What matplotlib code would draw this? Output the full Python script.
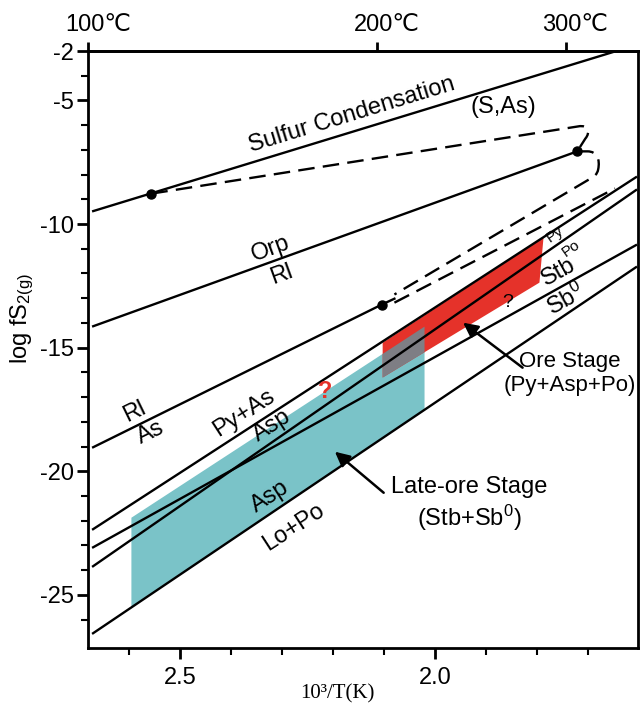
import matplotlib.pyplot as plt
import numpy as np
from matplotlib.path import Path
from matplotlib.patches import PathPatch, Polygon

plt.rcParams['font.family'] = ['Liberation Sans', 'DejaVu Sans']
plt.rcParams['mathtext.default'] = 'regular'

# boundary lines, x = 10^3/T(K), y = log fS2
sulfur_x = [2.672, 1.642]
sulfur_y = [-9.49, -2.98]
orp_x = [2.672, 1.722]
orp_y = [-14.15, -7.06]
rl_x = [2.672, 2.105]
rl_y = [-19.05, -13.26]
pyas_x = [2.672, 1.605]
pyas_y = [-22.37, -8.08]
pypo_x = [2.672, 1.605]
pypo_y = [-23.87, -8.60]
stb_x = [2.672, 1.605]
stb_y = [-23.10, -10.83]
lopo_x = [2.672, 1.605]
lopo_y = [-26.58, -11.72]

# invariant points
dots_x = [2.556, 1.722, 2.105]
dots_y = [-8.77, -7.06, -13.26]

# dashed (metastable) curves
dash1_x = [2.556, 1.720, 1.700, 1.696, 1.706, 1.722]
dash1_y = [-8.77, -6.05, -5.97, -6.30, -6.54, -7.06]
dash2_x = [1.722, 1.702, 1.683, 1.677, 1.681, 1.683, 1.689, 1.696, 2.080]
dash2_y = [-7.06, -7.06, -7.06, -7.39, -7.79, -8.00, -8.08, -8.16, -12.85]
dash3_x = [2.080, 1.648]
dash3_y = [-13.18, -8.56]
dash0_x = [2.105, 2.080]
dash0_y = [-13.26, -13.02]

# stage fields
late_x = [2.595, 2.021, 2.021, 2.595]
late_y = [-21.88, -14.15, -17.51, -25.49]
ore_x = [2.103, 1.788, 1.796, 2.103]
ore_y = [-14.80, -10.55, -12.37, -16.21]

# axis ticks
x_major = [2.5, 2.0]
x_minor = [2.6, 2.4, 2.3, 2.2, 2.1, 1.9, 1.8, 1.7]
y_major = [-3, -5, -10, -15, -20, -25]
y_major_labels = ['-2', '-5', '-10', '-15', '-20', '-25']
top_temps = [100, 200, 300]

fig = plt.figure(figsize=(6.41, 7.07), dpi=100)
ax = fig.add_axes([88 / 641, 1 - 648 / 707, 550 / 641, 597 / 707])
ax.set_xlim(2.68, 1.603)
ax.set_ylim(-27.15, -3.0)

teal = '#7ac3c8'
red = '#e5322a'
grey = '#7e7e84'

ax.add_patch(Polygon(list(zip(late_x, late_y)), closed=True, fc=teal, ec='none', zorder=1))
ax.add_patch(Polygon(list(zip(ore_x, ore_y)), closed=True, fc=red, ec='none', zorder=1))


# overlap of the two fields in grey
def edge(x, xa, ya, xb, yb):
    return ya + (x - xa) * (yb - ya) / (xb - xa)


gx = [ore_x[0], late_x[1]]
g_top = [edge(v, late_x[0], late_y[0], late_x[1], late_y[1]) for v in gx]
g_bot = [edge(v, ore_x[3], ore_y[3], ore_x[2], ore_y[2]) for v in gx]
ax.add_patch(Polygon([(gx[0], g_top[0]), (gx[1], g_top[1]), (gx[1], g_bot[1]), (gx[0], g_bot[0])],
                     closed=True, fc=grey, ec='none', zorder=2))

lw = 1.7
for xs, ys in [(sulfur_x, sulfur_y), (orp_x, orp_y), (rl_x, rl_y), (pyas_x, pyas_y),
               (pypo_x, pypo_y), (stb_x, stb_y), (lopo_x, lopo_y)]:
    ax.plot(xs, ys, color='black', lw=lw, zorder=3, solid_capstyle='butt')

# dashed paths with curled ends
dash = (0, (7, 3.5))
codes1 = [Path.MOVETO, Path.LINETO, Path.CURVE4, Path.CURVE4, Path.CURVE4, Path.LINETO]
codes2 = [Path.MOVETO, Path.LINETO, Path.CURVE4, Path.CURVE4, Path.CURVE4,
          Path.CURVE4, Path.CURVE4, Path.CURVE4, Path.LINETO]
for xs, ys, codes in [(dash1_x, dash1_y, codes1), (dash2_x, dash2_y, codes2)]:
    p = Path(np.column_stack([xs, ys]), codes)
    ax.add_patch(PathPatch(p, fill=False, ec='black', lw=lw, ls=dash, zorder=3))
ax.plot(dash3_x, dash3_y, color='black', lw=lw, ls=dash, zorder=3)
ax.plot(dash0_x, dash0_y, color='black', lw=lw, zorder=3)

ax.plot(dots_x, dots_y, 'o', color='black', ms=6.5, zorder=4)

# labels
fs = 17
txt = dict(ha='center', va='center', fontsize=fs, zorder=5)
ax.text(2.163, -5.57, 'Sulfur Condensation', rotation=17, **txt)
ax.text(1.866, -5.28, '(S,As)', **txt)
ax.text(2.323, -10.99, 'Orp', rotation=20, **txt)
ax.text(2.300, -12.04, 'Rl', rotation=20, **txt)
ax.text(2.588, -17.59, 'Rl', rotation=26, **txt)
ax.text(2.558, -18.44, 'As', rotation=26, **txt)
ax.text(2.375, -17.63, 'Py+As', rotation=33, **txt)
ax.text(2.319, -18.16, 'Asp', rotation=33, **txt)
ax.text(2.323, -21.03, 'Asp', rotation=33, **txt)
ax.text(2.278, -22.25, 'Lo+Po', rotation=33, **txt)
ax.text(1.759, -11.96, 'Stb', rotation=29, **txt)
ax.text(1.745, -13.06, 'Sb$^0$', rotation=29, **txt)
ax.text(1.765, -10.43, 'Py', rotation=35, ha='center', va='center', fontsize=11, zorder=5)
ax.text(1.735, -10.99, 'Po', rotation=35, ha='center', va='center', fontsize=11, zorder=5)
ax.text(2.216, -16.78, '?', color=red, fontweight='bold', **txt)
ax.text(1.858, -13.18, '?', ha='center', va='center', fontsize=14, zorder=5)
ax.text(1.737, -16.05, 'Ore Stage\n(Py+Asp+Po)', ha='center', va='center', fontsize=16, zorder=5)
ax.text(1.934, -21.36, 'Late-ore Stage\n(Stb+Sb$^0$)', ha='center', va='center', fontsize=fs, zorder=5)

arrow = dict(arrowstyle='-|>', color='black', lw=1.8, mutation_scale=22, shrinkA=0, shrinkB=0)
ax.annotate('', xy=(1.9455, -13.99), xytext=(1.829, -15.81), arrowprops=arrow, zorder=5)
ax.annotate('', xy=(2.1965, -19.21), xytext=(2.101, -20.87), arrowprops=arrow, zorder=5)

# axes styling
for s in ax.spines.values():
    s.set_linewidth(2)
ax.set_xticks(x_major)
ax.set_xticklabels(['2.5', '2.0'])
ax.set_xticks(x_minor, minor=True)
ax.set_yticks(y_major)
ax.set_yticklabels(y_major_labels)
y_minor = [v for v in range(-26, -3) if v not in y_major]
ax.set_yticks(y_minor, minor=True)
ax.tick_params(axis='both', which='major', direction='out', length=8, width=2, labelsize=17)
ax.tick_params(axis='both', which='minor', direction='out', length=5, width=1.5)
ax.tick_params(axis='x', which='major', pad=6)
ax.tick_params(axis='y', which='major', pad=2)

top = ax.secondary_xaxis('top')
top_pos = [1000 / (t + 273.15) for t in top_temps]
top.set_xticks(top_pos)
top.set_xticklabels([''] * len(top_pos))
top.tick_params(direction='out', length=6.5, width=2)
top.spines['top'].set_linewidth(2)
for p, t in zip(top_pos, top_temps):
    ax.annotate(f'{t}℃', xy=(p, 1), xycoords=ax.get_xaxis_transform(), xytext=(7, 11),
                textcoords='offset points', ha='center', va='bottom', fontsize=17,
                annotation_clip=False)

fig.text(22 / 641, 1 - 318 / 707, 'log fS$_{2(g)}$', rotation=90, ha='center', va='center', fontsize=17)
fig.text(337 / 641, 1 - 694 / 707, '10³/T(K)', ha='center', va='center', fontsize=15,
         family=['Liberation Serif', 'DejaVu Serif'])

fig.savefig('out.png', dpi=100)
